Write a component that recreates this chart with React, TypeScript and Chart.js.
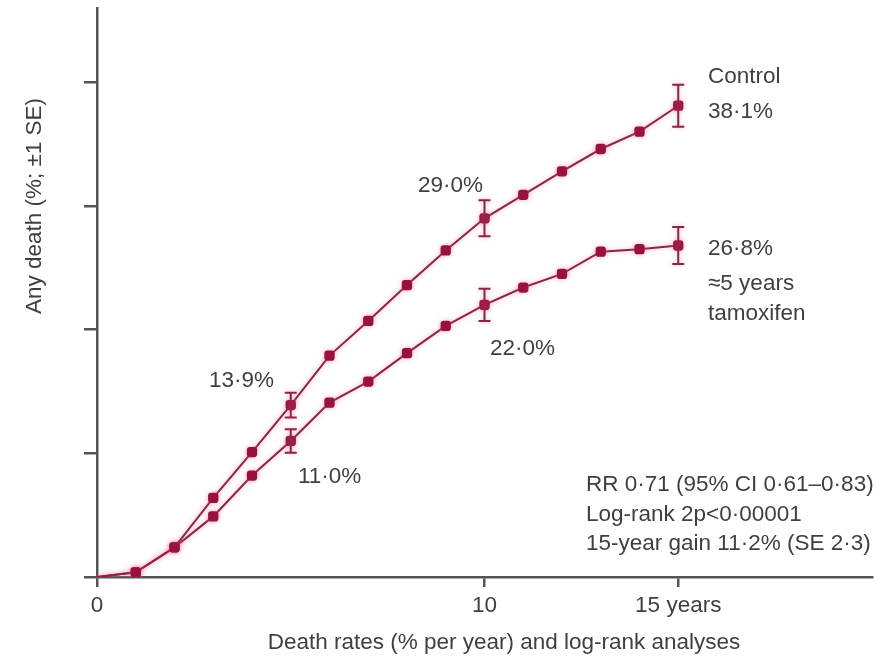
import React, { useEffect, useRef } from 'react';
import { Chart, registerables } from 'chart.js';

Chart.register(...registerables);

// ---- data ----
const years = [0, 1, 2, 3, 4, 5, 6, 7, 8, 9, 10, 11, 12, 13, 14, 15];
const controlDeath = [0, 0.38, 2.4, 6.4, 10.1, 13.9, 17.9, 20.7, 23.6, 26.4, 29.0, 30.9, 32.8, 34.6, 36.0, 38.1];
const tamoxifenDeath = [0, 0.38, 2.4, 4.9, 8.2, 11.0, 14.1, 15.8, 18.1, 20.3, 22.0, 23.4, 24.5, 26.3, 26.5, 26.8];
const errorYears = [5, 10, 15];
const controlSE = [1.0, 1.45, 1.7];
const tamoxifenSE = [0.95, 1.3, 1.5];
const xTickValues = [0, 10, 15];
const xTickLabels = ['0', '10', '15 years'];
const yTickValues = [0, 10, 20, 30, 40];
const xMax = 20;
const yMax = 46;

const seriesNames = ['Control', 'Tamoxifen'];
const yTitle = 'Any death (%; ±1 SE)';
const xTitle = 'Death rates (% per year) and log-rank analyses';
const statsLines = ['RR 0·71 (95% CI 0·61–0·83)', 'Log-rank 2p<0·00001', '15-year gain 11·2% (SE 2·3)'];

const FONT = '"Liberation Sans", Arial, sans-serif';
const TEXT_COLOR = '#3f3f3f';
const AXIS_COLOR = '#555555';
const LINE_COLOR = '#8c2447';
const POINT_COLOR = '#981240';

const glowPlugin = {
  id: 'glow',
  beforeDatasetDraw(chart: any) {
    const ctx = chart.ctx;
    ctx.save();
    ctx.shadowColor = 'rgba(240, 110, 150, 0.6)';
    ctx.shadowBlur = 5;
  },
  afterDatasetDraw(chart: any) {
    chart.ctx.restore();
  },
};

const errorBarPlugin = {
  id: 'errorBars',
  afterDatasetsDraw(chart: any) {
    const ctx = chart.ctx;
    const xs = chart.scales.x;
    const ys = chart.scales.y;
    const seriesVals = [controlDeath, tamoxifenDeath];
    const seriesSE = [controlSE, tamoxifenSE];
    ctx.save();
    ctx.strokeStyle = LINE_COLOR;
    ctx.lineWidth = 2;
    ctx.shadowColor = 'rgba(240, 110, 150, 0.5)';
    ctx.shadowBlur = 4;
    seriesVals.forEach((vals, si) => {
      errorYears.forEach((yr, i) => {
        const v = vals[years.indexOf(yr)];
        const se = seriesSE[si][i];
        const px = xs.getPixelForValue(yr);
        const top = ys.getPixelForValue(v + se);
        const bot = ys.getPixelForValue(v - se);
        const cap = 6;
        ctx.beginPath();
        ctx.moveTo(px, top);
        ctx.lineTo(px, bot);
        ctx.moveTo(px - cap, top);
        ctx.lineTo(px + cap, top);
        ctx.moveTo(px - cap, bot);
        ctx.lineTo(px + cap, bot);
        ctx.stroke();
      });
    });
    ctx.restore();
  },
};

const textPlugin = {
  id: 'texts',
  afterDraw(chart: any) {
    const ctx = chart.ctx;
    ctx.save();
    ctx.fillStyle = TEXT_COLOR;
    ctx.font = `22.5px ${FONT}`;
    ctx.textAlign = 'left';
    ctx.textBaseline = 'alphabetic';
    const put = (t: string, x: number, y: number) => ctx.fillText(t, x, y);
    put('13·9%', 209, 387);
    put('11·0%', 298, 483);
    put('29·0%', 418, 192);
    put('22·0%', 490, 355);
    put(seriesNames[0], 708, 83);
    put('38·1%', 708, 118);
    put('26·8%', 708, 255);
    put('≈5 years', 708, 290);
    put('tamoxifen', 708, 320);
    put(statsLines[0], 586, 491);
    put(statsLines[1], 586, 521);
    put(statsLines[2], 586, 550);
    // x title
    ctx.textAlign = 'center';
    put(xTitle, 504, 649);
    // y title
    ctx.translate(41, 206);
    ctx.rotate(-Math.PI / 2);
    ctx.textAlign = 'center';
    ctx.fillText(yTitle, 0, 0);
    ctx.restore();
  },
};

export default function App() {
  const ref = useRef<HTMLCanvasElement | null>(null);

  useEffect(() => {
    if (!ref.current) return;
    const mk = (vals: number[], label: string) => ({
      label,
      data: years.map((x, i) => ({ x, y: vals[i] })),
      borderColor: LINE_COLOR,
      borderWidth: 2,
      backgroundColor: POINT_COLOR,
      pointBackgroundColor: POINT_COLOR,
      pointBorderColor: POINT_COLOR,
      pointBorderWidth: 0,
      pointStyle: 'rectRounded',
      pointRadius: (c: any) => (c.dataIndex === 0 ? 0 : 6),
      tension: 0,
      fill: false,
    });
    const chart = new Chart(ref.current, {
      type: 'line',
      data: { datasets: [mk(controlDeath, seriesNames[0]), mk(tamoxifenDeath, seriesNames[1])] as any },
      options: {
        animation: false,
        responsive: false,
        layout: { padding: { left: 84, top: 8, right: 17, bottom: 0 } },
        plugins: { legend: { display: false }, tooltip: { enabled: false }, title: { display: false } },
        scales: {
          x: {
            type: 'linear',
            min: 0,
            max: xMax,
            afterBuildTicks: (s: any) => {
              s.ticks = xTickValues.map((v) => ({ value: v }));
            },
            afterFit: (s: any) => {
              s.height = 83;
            },
            grid: { display: true, drawOnChartArea: false, drawTicks: true, tickLength: 10, color: AXIS_COLOR, lineWidth: 2.5 },
            border: { display: true, color: AXIS_COLOR, width: 2.5 },
            ticks: {
              autoSkip: false,
              maxRotation: 0,
              padding: 5,
              color: TEXT_COLOR,
              font: { family: FONT, size: 22.5 },
              callback: (v: any) => {
                const i = xTickValues.indexOf(Number(v));
                return i >= 0 ? xTickLabels[i] : '';
              },
            },
          },
          y: {
            type: 'linear',
            min: 0,
            max: yMax,
            afterBuildTicks: (s: any) => {
              s.ticks = yTickValues.map((v) => ({ value: v }));
            },
            afterFit: (s: any) => {
              s.width = 13;
            },
            grid: { display: true, drawOnChartArea: false, drawTicks: true, tickLength: 13, color: AXIS_COLOR, lineWidth: 2.5 },
            border: { display: true, color: AXIS_COLOR, width: 2.5 },
            ticks: { display: false },
          },
        },
      },
      plugins: [glowPlugin, errorBarPlugin, textPlugin],
    } as any);
    return () => chart.destroy();
  }, []);

  return (
    <div style={{ position: 'absolute', left: 0, top: 0, width: 889, height: 660, background: '#ffffff' }}>
      <canvas ref={ref} width={889} height={660} style={{ display: 'block' }} />
    </div>
  );
}
